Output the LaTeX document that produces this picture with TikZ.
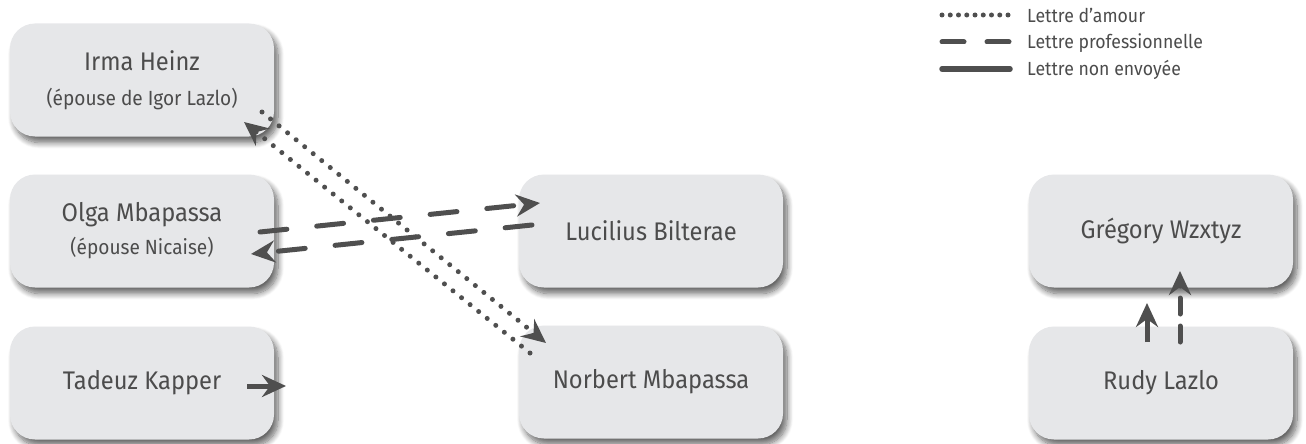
\documentclass[tikz,border=0pt]{standalone}
\usepackage{fontspec}
\setmainfont[FakeStretch=0.93]{Fira Sans}
\usetikzlibrary{arrows.meta,shadows.blur}
\definecolor{boxfill}{HTML}{E6E7E9}
\definecolor{ink}{HTML}{4F4F4F}
\definecolor{txt}{HTML}{4C4C4C}
\tikzset{
  person/.style={rectangle, rounded corners=25pt, fill=boxfill, minimum width=264pt, minimum height=113pt,
    text=txt, align=center, inner sep=0pt,
    font=\fontsize{25.5}{38}\selectfont,
    blur shadow={shadow xshift=4pt, shadow yshift=-6pt, shadow blur radius=6pt, shadow opacity=60, shadow blur steps=10}},
  tip/.style={-{Stealth[length=24pt,width=22pt,inset=8pt]}},
  conn/.style={draw=ink, line width=5pt},
  love/.style={conn, line cap=round, dash pattern=on 0pt off 11pt},
  pro/.style={conn, line cap=round, dash pattern=on 27pt off 30pt},
  unsent/.style={conn},
  legtext/.style={anchor=west, text=txt, font=\fontsize{19}{20}\selectfont, inner sep=0pt}
}
\begin{document}
\begin{tikzpicture}[x=1pt,y=-1pt]
\useasboundingbox (0,0) rectangle (1306,444);

\node[person] (irma) at (142,80) {Irma Heinz\\[-3pt]{\fontsize{20.5}{38}\selectfont (épouse de Igor Lazlo)}};
\node[person] (olga) at (142,231) {Olga Mbapassa\\[-5pt]{\fontsize{20.5}{38}\selectfont (épouse Nicaise)}};
\node[person] (tadeuz) at (142,383) {Tadeuz Kapper};
\node[person] (lucilius) at (651,231) {Lucilius Bilterae};
\node[person] (norbert) at (651,382) {Norbert Mbapassa};
\node[person] (gregory) at (1161,231) {Grégory Wzxtyz};
\node[person] (rudy) at (1161,383) {Rudy Lazlo};

% connector end points
\coordinate (l1s) at (262,112);
\coordinate (l1e) at (546,343);
\coordinate (l2s) at (530,353);
\coordinate (l2e) at (244,122);
\coordinate (p1s) at (260,232);
\coordinate (p1e) at (540,203);
\coordinate (p2s) at (532,225);
\coordinate (p2e) at (251,254);
\coordinate (ts) at (247,386);
\coordinate (te) at (286,386);
\coordinate (r1s) at (1147,342);
\coordinate (r1e) at (1147,303);
\coordinate (r2s) at (1180,342);
\coordinate (r2e) at (1180,271);

\draw[love, tip] (l1s) -- (l1e);
\draw[love, tip] (l2s) -- (l2e);
\draw[pro, tip] (p1s) -- (p1e);
\draw[pro, tip] (p2s) -- (p2e);
\draw[unsent, tip] (ts) -- (te);
\draw[unsent, tip] (r1s) -- (r1e);
\draw[pro, tip, dash pattern=on 16pt off 12pt] (r2s) -- (r2e);

% legend
\coordinate (a1) at (942,15);
\coordinate (a2) at (1008,15);
\coordinate (b1) at (942,42);
\coordinate (b2) at (1010,42);
\coordinate (c1) at (942,69);
\coordinate (c2) at (1010,69);
\draw[love, dash pattern=on 0pt off 8.25pt] (a1) -- (a2);
\draw[conn, line cap=round, dash pattern=on 22pt off 23pt] (b1) -- (b2);
\draw[conn, line width=5.5pt, line cap=round] (c1) -- (c2);
\node[legtext] (la) at (1027,15) {Lettre d’amour};
\node[legtext] (lb) at (1027,43) {Lettre professionnelle};
\node[legtext] (lc) at (1027,70) {Lettre non envoyée};
\end{tikzpicture}
\end{document}
